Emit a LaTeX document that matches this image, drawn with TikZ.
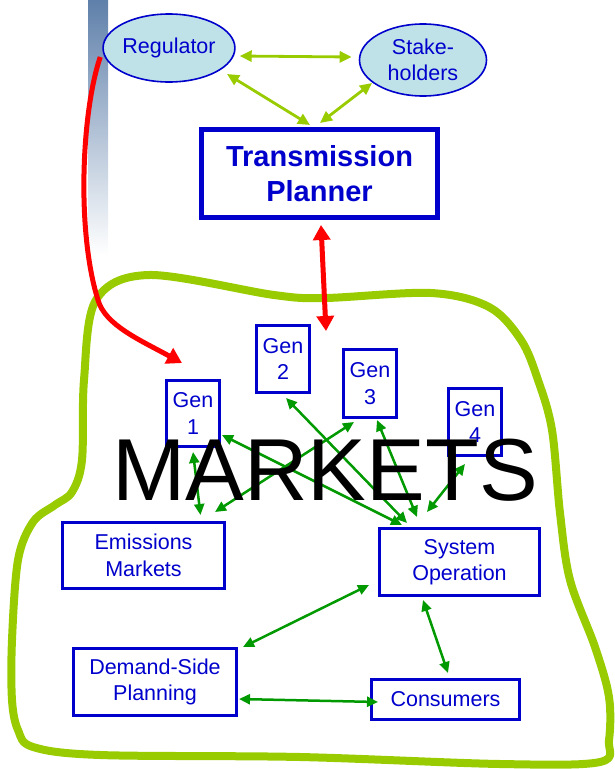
\documentclass[tikz,border=0pt]{standalone}
\usepackage{fontspec}
\setmainfont{Liberation Sans}
\usetikzlibrary{arrows.meta,shapes.geometric,calc}
\definecolor{boxblue}{HTML}{0000CC}
\definecolor{arrgreen}{HTML}{009900}
\definecolor{limegreen}{HTML}{99CC00}
\definecolor{ellfill}{HTML}{BFE2E8}
\definecolor{barblue}{HTML}{5F80AA}
\definecolor{redline}{HTML}{FF0000}
\begin{document}
\begin{tikzpicture}[x=1pt,y=-1pt,
  box/.style={draw=boxblue, line width=3pt, text=boxblue, align=center, inner sep=0pt,
              font=\fontsize{21.5}{26.5}\selectfont},
  oval/.style={ellipse, draw=boxblue, line width=1.6pt, fill=ellfill, text=boxblue, align=center,
              inner sep=0pt, font=\fontsize{21.5}{26.5}\selectfont},
  garrow/.style={draw=arrgreen, line width=2.5pt,
              arrows={Triangle[length=11pt,width=10pt]-Triangle[length=11pt,width=10pt]}},
  larrow/.style={draw=limegreen, line width=2.8pt,
              arrows={Triangle[length=12pt,width=11pt]-Triangle[length=12pt,width=11pt]}},
  rarrow/.style={draw=redline, line width=5pt}
]
\useasboundingbox (0,0) rectangle (614,769);

% gradient bar
\shade[top color=barblue, bottom color=white, draw=none] (88,0) rectangle (108,255);

% markets blob
\draw[limegreen, line width=8pt, line join=round]
  plot[smooth cycle, tension=0.55] coordinates {
   (84,380) (96,300) (149,275) (274,295) (325,298) (431,293) (489,307) (521,340)
   (538,380) (552,430) (560,513) (570,580) (595,647) (609,697) (609,740) (600,762)
   (500,764) (300,757) (100,755) (33,747) (18,730) (12,700) (12,640) (18,560)
   (33,522) (55,505) (72,492) (82,460)};

% nodes
\node[oval, minimum width=128pt, minimum height=68pt] (reg) at (169,48) {Regulator};
\node[oval, minimum width=127pt, minimum height=72pt] (stk) at (423,60) {Stake-\\holders};
\node[box, line width=5pt, minimum width=236pt, minimum height=88pt,
      font=\fontsize{29}{35}\selectfont\bfseries] (tp) at (319.5,173.5) {Transmission\\Planner};
\node[box, minimum width=53pt, minimum height=66pt] (gen1) at (193,413.5) {Gen\\1};
\node[box, minimum width=53pt, minimum height=67pt] (gen2) at (283,359) {Gen\\2};
\node[box, minimum width=53pt, minimum height=68pt] (gen3) at (370,383.5) {Gen\\3};
\node[box, minimum width=53pt, minimum height=67pt] (gen4) at (475,422) {Gen\\4};
\node[box, minimum width=162pt, minimum height=66pt] (em) at (143.5,555.5) {Emissions\\Markets};
\node[box, minimum width=160pt, minimum height=67pt] (sys) at (459.5,562) {System\\Operation};
\node[box, minimum width=163pt, minimum height=67pt] (dsp) at (155,682) {Demand-Side\\Planning};
\node[box, minimum width=148pt, minimum height=40pt] (con) at (445.5,699.5) {Consumers};

% top light green arrows
\draw[larrow] ($(reg.east)+(4,8)$) -- ($(stk.west)+(-7,-3)$);
\draw[larrow] ($(reg.center)+(58,26)$) -- ($(tp.north)+(-9.5,-2)$);
\draw[larrow] ($(stk.center)+(-51,23)$) -- ($(tp.north)+(0.5,-4)$);

% green arrows
\draw[garrow] ($(gen1.south)+(0,4)$) -- ($(em.north)+(57,-6)$);
\draw[garrow] ($(gen1.south east)+(1,-13)$) -- ($(sys.north west)+(24,-2)$);
\draw[garrow] ($(gen3.south)+(-16,3)$) -- ($(em.north east)+(-11,-9)$);
\draw[garrow] ($(gen2.south)+(3,4)$) -- ($(sys.north west)+(29,-4)$);
\draw[garrow] ($(gen3.south)+(7,1)$) -- ($(sys.north west)+(39,-10)$);
\draw[garrow] ($(gen4.south)+(-10,7)$) -- ($(sys.north west)+(49,-15)$);
\draw[garrow] ($(sys.west)+(-9,23)$) -- ($(dsp.north east)+(5,0)$);
\draw[garrow] ($(sys.south)+(-36.5,3)$) -- ($(con.north)+(2.5,-5)$);
\draw[garrow] ($(dsp.east)+(1,17)$) -- ($(con.west)+(8,2.5)$);

% red arrows
\draw[rarrow, arrows={Triangle[length=15pt,width=17pt]-Triangle[length=15pt,width=17pt]}]
  ($(tp.south)+(1.5,5)$) -- ($(gen2.north east)+(15,7)$);
\coordinate (rbend) at (98,300);
\draw[rarrow, arrows={-Triangle[length=15pt,width=17pt]}]
  ($(reg.west)+(-2,9)$) .. controls (82,110) and (76,230) .. (rbend)
  .. controls (105,325) and (140,340) .. ($(gen1.north)+(-11,-16)$);

% MARKETS label
\node[anchor=base, inner sep=0pt, font=\fontsize{88}{88}\selectfont] (mk) at (325,500) {MARKETS};
\end{tikzpicture}
\end{document}
